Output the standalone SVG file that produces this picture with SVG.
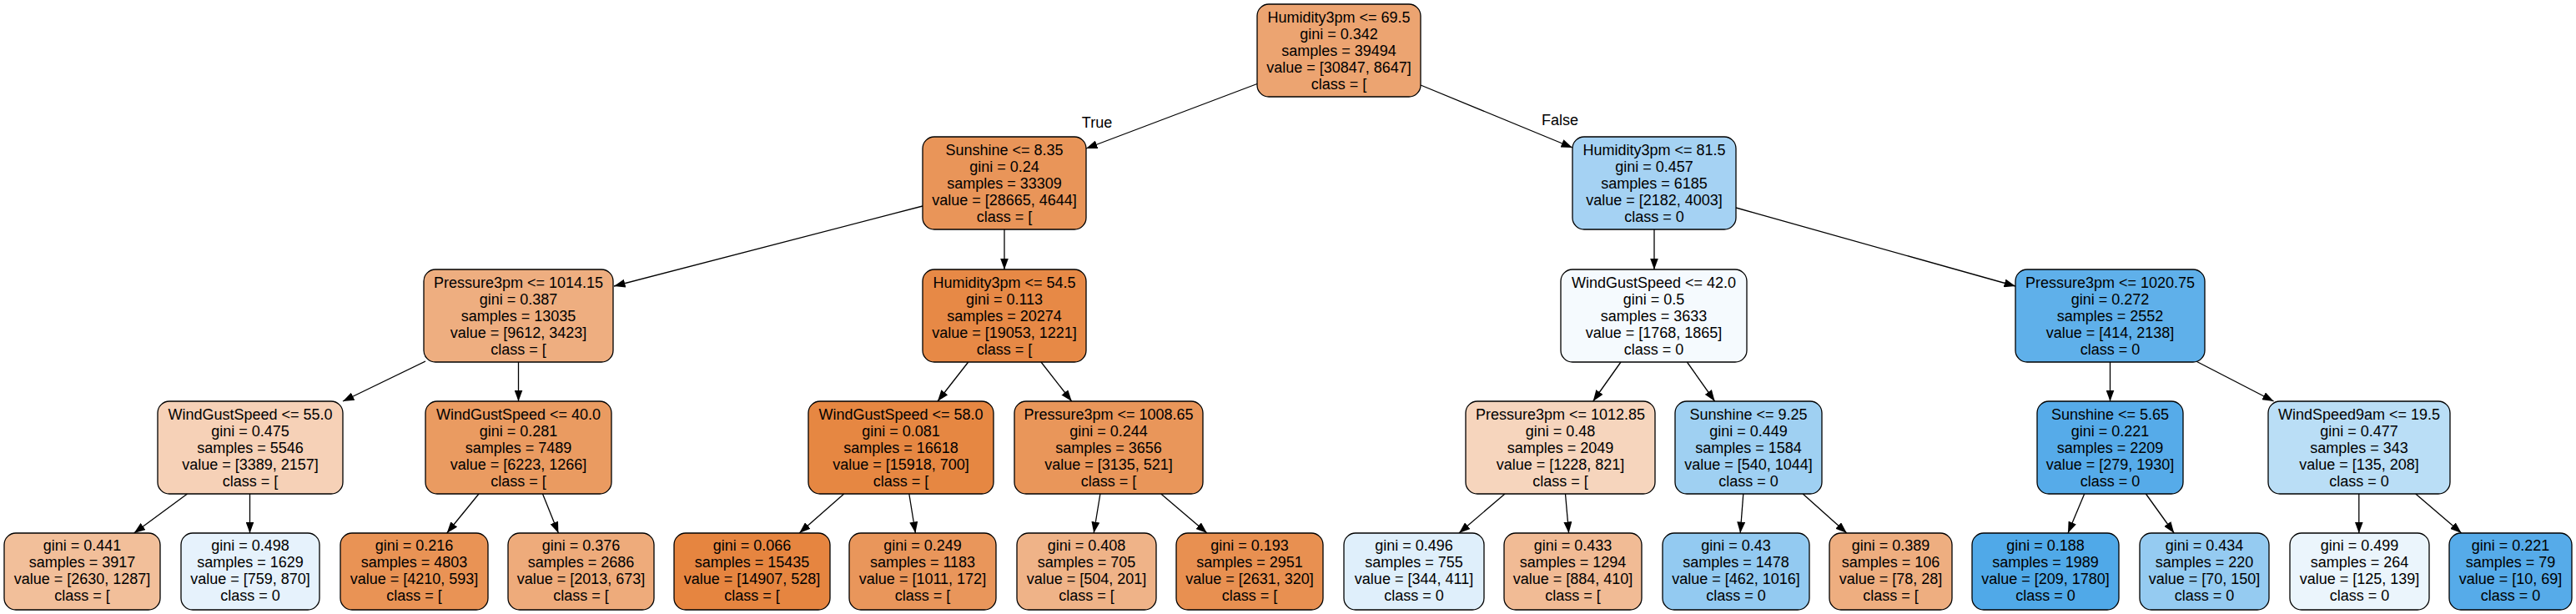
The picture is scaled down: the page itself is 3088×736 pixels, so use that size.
<svg xmlns="http://www.w3.org/2000/svg" width="3088" height="736" viewBox="0 0 3088 736">
<style>
.box{stroke:#000;stroke-width:1.3}
text{font-family:"Liberation Sans",Helvetica,Arial,sans-serif;font-size:18px;fill:#000;text-anchor:middle}
.edge line{stroke:#000;stroke-width:1.3}
</style>
<defs>
<marker id="ah" markerUnits="userSpaceOnUse" markerWidth="14" markerHeight="10" refX="13.5" refY="5" orient="auto">
<path d="M0,0 L13.5,5 L0,10 z" fill="#000"/>
</marker>
</defs>
<rect width="3088" height="736" fill="#fff"/>
<g id="connectors" class="edge">
<g marker-end="url(#ah)">
<line x1="1507" y1="100.5" x2="1302" y2="178"/>
<line x1="1703" y1="102" x2="1885" y2="177"/>
<line x1="1204" y1="275" x2="1204" y2="323"/>
<line x1="1106" y1="247" x2="736" y2="343"/>
<line x1="1983" y1="275" x2="1983" y2="323"/>
<line x1="2081" y1="249" x2="2416" y2="343"/>
<line x1="510" y1="433" x2="411" y2="481"/>
<line x1="621.5" y1="434" x2="621.5" y2="481"/>
<line x1="1160.7" y1="434" x2="1124" y2="481"/>
<line x1="1248" y1="434" x2="1284.7" y2="481"/>
<line x1="1943" y1="434" x2="1909.7" y2="481"/>
<line x1="2022.4" y1="434" x2="2055.6" y2="481"/>
<line x1="2529.5" y1="434" x2="2529.5" y2="481"/>
<line x1="2632.6" y1="433" x2="2725.6" y2="481"/>
<line x1="224.5" y1="592" x2="160.7" y2="639"/>
<line x1="299.5" y1="592" x2="299.5" y2="639"/>
<line x1="574" y1="592" x2="535.7" y2="639"/>
<line x1="650.5" y1="592" x2="669.4" y2="639"/>
<line x1="1011.7" y1="592" x2="958.2" y2="639"/>
<line x1="1089.8" y1="592" x2="1097.4" y2="639"/>
<line x1="1318.9" y1="592" x2="1311.2" y2="639"/>
<line x1="1391.8" y1="592" x2="1446.9" y2="639"/>
<line x1="1804" y1="592" x2="1749" y2="639"/>
<line x1="1876.5" y1="592" x2="1880.6" y2="639"/>
<line x1="2089.8" y1="592" x2="2086.2" y2="639"/>
<line x1="2161.2" y1="592" x2="2213.8" y2="639"/>
<line x1="2498.7" y1="592" x2="2479" y2="639"/>
<line x1="2572.4" y1="592" x2="2606.2" y2="639"/>
<line x1="2827.8" y1="592" x2="2827.8" y2="639"/>
<line x1="2895.8" y1="592" x2="2950.7" y2="639"/>
</g>
<text x="1315" y="153">True</text>
<text x="1870" y="150">False</text>
</g>

<g id="n0"><rect class="box" x="1507" y="5" width="196" height="111" rx="14" fill="#eca471"/>
<text x="1605" y="26.7">Humidity3pm &lt;= 69.5<tspan x="1605" dy="20">gini = 0.342</tspan><tspan x="1605" dy="20">samples = 39494</tspan><tspan x="1605" dy="20">value = [30847, 8647]</tspan><tspan x="1605" dy="20">class = [</tspan></text></g>

<g id="n1"><rect class="box" x="1106" y="164" width="196" height="111" rx="14" fill="#e99559"/>
<text x="1204" y="185.7">Sunshine &lt;= 8.35<tspan x="1204" dy="20">gini = 0.24</tspan><tspan x="1204" dy="20">samples = 33309</tspan><tspan x="1204" dy="20">value = [28665, 4644]</tspan><tspan x="1204" dy="20">class = [</tspan></text></g>

<g id="n2"><rect class="box" x="1885" y="164" width="196" height="111" rx="14" fill="#a5d2f3"/>
<text x="1983" y="185.7">Humidity3pm &lt;= 81.5<tspan x="1983" dy="20">gini = 0.457</tspan><tspan x="1983" dy="20">samples = 6185</tspan><tspan x="1983" dy="20">value = [2182, 4003]</tspan><tspan x="1983" dy="20">class = 0</tspan></text></g>

<g id="n3"><rect class="box" x="508" y="323" width="227" height="111" rx="14" fill="#eeae80"/>
<text x="621.5" y="344.7">Pressure3pm &lt;= 1014.15<tspan x="621.5" dy="20">gini = 0.387</tspan><tspan x="621.5" dy="20">samples = 13035</tspan><tspan x="621.5" dy="20">value = [9612, 3423]</tspan><tspan x="621.5" dy="20">class = [</tspan></text></g>

<g id="n4"><rect class="box" x="1106" y="323" width="196" height="111" rx="14" fill="#e78946"/>
<text x="1204" y="344.7">Humidity3pm &lt;= 54.5<tspan x="1204" dy="20">gini = 0.113</tspan><tspan x="1204" dy="20">samples = 20274</tspan><tspan x="1204" dy="20">value = [19053, 1221]</tspan><tspan x="1204" dy="20">class = [</tspan></text></g>

<g id="n5"><rect class="box" x="1871" y="323" width="223" height="111" rx="14" fill="#f5fafe"/>
<text x="1982.5" y="344.7">WindGustSpeed &lt;= 42.0<tspan x="1982.5" dy="20">gini = 0.5</tspan><tspan x="1982.5" dy="20">samples = 3633</tspan><tspan x="1982.5" dy="20">value = [1768, 1865]</tspan><tspan x="1982.5" dy="20">class = 0</tspan></text></g>

<g id="n6"><rect class="box" x="2416" y="323" width="227" height="111" rx="14" fill="#5fb0ea"/>
<text x="2529.5" y="344.7">Pressure3pm &lt;= 1020.75<tspan x="2529.5" dy="20">gini = 0.272</tspan><tspan x="2529.5" dy="20">samples = 2552</tspan><tspan x="2529.5" dy="20">value = [414, 2138]</tspan><tspan x="2529.5" dy="20">class = 0</tspan></text></g>

<g id="n7"><rect class="box" x="189" y="481" width="222" height="111" rx="14" fill="#f6d1b7"/>
<text x="300" y="502.7">WindGustSpeed &lt;= 55.0<tspan x="300" dy="20">gini = 0.475</tspan><tspan x="300" dy="20">samples = 5546</tspan><tspan x="300" dy="20">value = [3389, 2157]</tspan><tspan x="300" dy="20">class = [</tspan></text></g>

<g id="n8"><rect class="box" x="510" y="481" width="223" height="111" rx="14" fill="#ea9b61"/>
<text x="621.5" y="502.7">WindGustSpeed &lt;= 40.0<tspan x="621.5" dy="20">gini = 0.281</tspan><tspan x="621.5" dy="20">samples = 7489</tspan><tspan x="621.5" dy="20">value = [6223, 1266]</tspan><tspan x="621.5" dy="20">class = [</tspan></text></g>

<g id="n9"><rect class="box" x="969" y="481" width="222" height="111" rx="14" fill="#e68742"/>
<text x="1080" y="502.7">WindGustSpeed &lt;= 58.0<tspan x="1080" dy="20">gini = 0.081</tspan><tspan x="1080" dy="20">samples = 16618</tspan><tspan x="1080" dy="20">value = [15918, 700]</tspan><tspan x="1080" dy="20">class = [</tspan></text></g>

<g id="n10"><rect class="box" x="1216" y="481" width="226" height="111" rx="14" fill="#e9965a"/>
<text x="1329" y="502.7">Pressure3pm &lt;= 1008.65<tspan x="1329" dy="20">gini = 0.244</tspan><tspan x="1329" dy="20">samples = 3656</tspan><tspan x="1329" dy="20">value = [3135, 521]</tspan><tspan x="1329" dy="20">class = [</tspan></text></g>

<g id="n11"><rect class="box" x="1757" y="481" width="227" height="111" rx="14" fill="#f6d5bd"/>
<text x="1870.5" y="502.7">Pressure3pm &lt;= 1012.85<tspan x="1870.5" dy="20">gini = 0.48</tspan><tspan x="1870.5" dy="20">samples = 2049</tspan><tspan x="1870.5" dy="20">value = [1228, 821]</tspan><tspan x="1870.5" dy="20">class = [</tspan></text></g>

<g id="n12"><rect class="box" x="2008" y="481" width="176" height="111" rx="14" fill="#9fd0f2"/>
<text x="2096" y="502.7">Sunshine &lt;= 9.25<tspan x="2096" dy="20">gini = 0.449</tspan><tspan x="2096" dy="20">samples = 1584</tspan><tspan x="2096" dy="20">value = [540, 1044]</tspan><tspan x="2096" dy="20">class = 0</tspan></text></g>

<g id="n13"><rect class="box" x="2442" y="481" width="175" height="111" rx="14" fill="#56abe9"/>
<text x="2529.5" y="502.7">Sunshine &lt;= 5.65<tspan x="2529.5" dy="20">gini = 0.221</tspan><tspan x="2529.5" dy="20">samples = 2209</tspan><tspan x="2529.5" dy="20">value = [279, 1930]</tspan><tspan x="2529.5" dy="20">class = 0</tspan></text></g>

<g id="n14"><rect class="box" x="2719" y="481" width="218" height="111" rx="14" fill="#badef6"/>
<text x="2828" y="502.7">WindSpeed9am &lt;= 19.5<tspan x="2828" dy="20">gini = 0.477</tspan><tspan x="2828" dy="20">samples = 343</tspan><tspan x="2828" dy="20">value = [135, 208]</tspan><tspan x="2828" dy="20">class = 0</tspan></text></g>

<g id="l1"><rect class="box" x="5" y="639" width="187" height="92" rx="14" fill="#f2bf9a"/>
<text x="98.5" y="660">gini = 0.441<tspan x="98.5" dy="20">samples = 3917</tspan><tspan x="98.5" dy="20">value = [2630, 1287]</tspan><tspan x="98.5" dy="20">class = [</tspan></text></g>

<g id="l2"><rect class="box" x="217" y="639" width="166" height="92" rx="14" fill="#e6f2fc"/>
<text x="300" y="660">gini = 0.498<tspan x="300" dy="20">samples = 1629</tspan><tspan x="300" dy="20">value = [759, 870]</tspan><tspan x="300" dy="20">class = 0</tspan></text></g>

<g id="l3"><rect class="box" x="408" y="639" width="177" height="92" rx="14" fill="#e99355"/>
<text x="496.5" y="660">gini = 0.216<tspan x="496.5" dy="20">samples = 4803</tspan><tspan x="496.5" dy="20">value = [4210, 593]</tspan><tspan x="496.5" dy="20">class = [</tspan></text></g>

<g id="l4"><rect class="box" x="609" y="639" width="175" height="92" rx="14" fill="#eeab7b"/>
<text x="696.5" y="660">gini = 0.376<tspan x="696.5" dy="20">samples = 2686</tspan><tspan x="696.5" dy="20">value = [2013, 673]</tspan><tspan x="696.5" dy="20">class = [</tspan></text></g>

<g id="l5"><rect class="box" x="808" y="639" width="187" height="92" rx="14" fill="#e68540"/>
<text x="901.5" y="660">gini = 0.066<tspan x="901.5" dy="20">samples = 15435</tspan><tspan x="901.5" dy="20">value = [14907, 528]</tspan><tspan x="901.5" dy="20">class = [</tspan></text></g>

<g id="l6"><rect class="box" x="1018" y="639" width="176" height="92" rx="14" fill="#e9965b"/>
<text x="1106" y="660">gini = 0.249<tspan x="1106" dy="20">samples = 1183</tspan><tspan x="1106" dy="20">value = [1011, 172]</tspan><tspan x="1106" dy="20">class = [</tspan></text></g>

<g id="l7"><rect class="box" x="1219" y="639" width="167" height="92" rx="14" fill="#efb388"/>
<text x="1302.5" y="660">gini = 0.408<tspan x="1302.5" dy="20">samples = 705</tspan><tspan x="1302.5" dy="20">value = [504, 201]</tspan><tspan x="1302.5" dy="20">class = [</tspan></text></g>

<g id="l8"><rect class="box" x="1410" y="639" width="176" height="92" rx="14" fill="#e89051"/>
<text x="1498" y="660">gini = 0.193<tspan x="1498" dy="20">samples = 2951</tspan><tspan x="1498" dy="20">value = [2631, 320]</tspan><tspan x="1498" dy="20">class = [</tspan></text></g>

<g id="l9"><rect class="box" x="1611" y="639" width="168" height="92" rx="14" fill="#dfeffb"/>
<text x="1695" y="660">gini = 0.496<tspan x="1695" dy="20">samples = 755</tspan><tspan x="1695" dy="20">value = [344, 411]</tspan><tspan x="1695" dy="20">class = 0</tspan></text></g>

<g id="l10"><rect class="box" x="1803" y="639" width="165" height="92" rx="14" fill="#f1bb95"/>
<text x="1885.5" y="660">gini = 0.433<tspan x="1885.5" dy="20">samples = 1294</tspan><tspan x="1885.5" dy="20">value = [884, 410]</tspan><tspan x="1885.5" dy="20">class = [</tspan></text></g>

<g id="l11"><rect class="box" x="1993" y="639" width="176" height="92" rx="14" fill="#93caf1"/>
<text x="2081" y="660">gini = 0.43<tspan x="2081" dy="20">samples = 1478</tspan><tspan x="2081" dy="20">value = [462, 1016]</tspan><tspan x="2081" dy="20">class = 0</tspan></text></g>

<g id="l12"><rect class="box" x="2193" y="639" width="147" height="92" rx="14" fill="#eeae80"/>
<text x="2266.5" y="660">gini = 0.389<tspan x="2266.5" dy="20">samples = 106</tspan><tspan x="2266.5" dy="20">value = [78, 28]</tspan><tspan x="2266.5" dy="20">class = [</tspan></text></g>

<g id="l13"><rect class="box" x="2364" y="639" width="176" height="92" rx="14" fill="#50a9e8"/>
<text x="2452" y="660">gini = 0.188<tspan x="2452" dy="20">samples = 1989</tspan><tspan x="2452" dy="20">value = [209, 1780]</tspan><tspan x="2452" dy="20">class = 0</tspan></text></g>

<g id="l14"><rect class="box" x="2565" y="639" width="155" height="92" rx="14" fill="#95cbf1"/>
<text x="2642.5" y="660">gini = 0.434<tspan x="2642.5" dy="20">samples = 220</tspan><tspan x="2642.5" dy="20">value = [70, 150]</tspan><tspan x="2642.5" dy="20">class = 0</tspan></text></g>

<g id="l15"><rect class="box" x="2745" y="639" width="167" height="92" rx="14" fill="#ebf5fc"/>
<text x="2828.5" y="660">gini = 0.499<tspan x="2828.5" dy="20">samples = 264</tspan><tspan x="2828.5" dy="20">value = [125, 139]</tspan><tspan x="2828.5" dy="20">class = 0</tspan></text></g>

<g id="l16"><rect class="box" x="2936" y="639" width="147" height="92" rx="14" fill="#56abe9"/>
<text x="3009.5" y="660">gini = 0.221<tspan x="3009.5" dy="20">samples = 79</tspan><tspan x="3009.5" dy="20">value = [10, 69]</tspan><tspan x="3009.5" dy="20">class = 0</tspan></text></g>
</svg>
